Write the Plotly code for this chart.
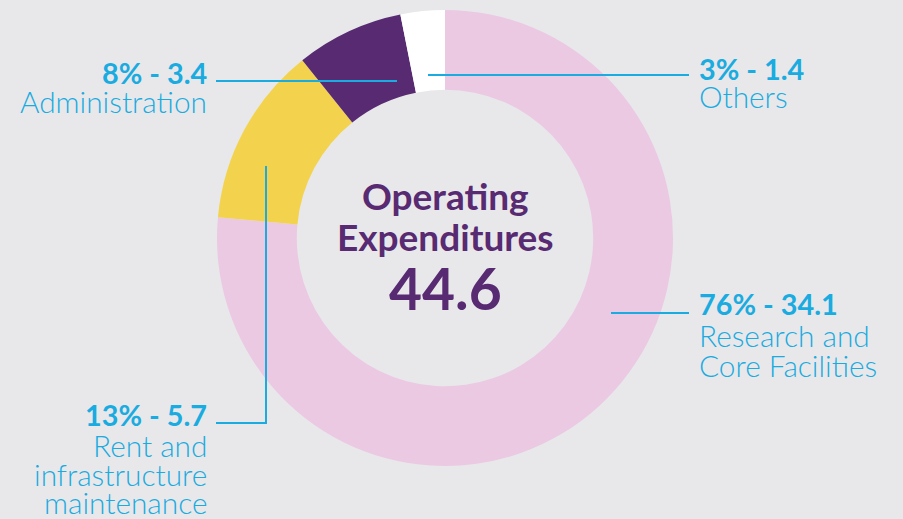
import plotly.graph_objects as go

# ---- data ----
categories = ["Research and Core Facilities", "Rent and infrastructure maintenance", "Administration", "Others"]
values = [34.1, 5.7, 3.4, 1.4]
percents = ["76%", "13%", "8%", "3%"]
colors = ["#EBC9E3", "#F3D34E", "#582A72", "#FFFFFF"]
total_label = "44.6"
center_title = ["Operating", "Expenditures"]

W, H = 903, 519
BG = "#E8E8EA"
BLUE = "#1AABE0"
PURPLE = "#582A72"

cx, cy, R = 445, 238, 228
fig = go.Figure()
fig.add_trace(go.Pie(
    labels=categories, values=values, sort=False, direction="clockwise", rotation=0,
    hole=0.65, marker=dict(colors=colors, line=dict(width=0)), textinfo="none",
    hoverinfo="label+value+percent", showlegend=False,
    domain=dict(x=[(cx - R) / W, (cx + R) / W], y=[1 - (cy + R) / H, 1 - (cy - R) / H]),
))

name_lines = {
    0: ["Research and", "Core Facilities"],
    1: ["Rent and", "infrastructure", "maintenance"],
    2: ["Administration"],
    3: ["Others"],
}
label_pos = {
    0: (697, "left", 304, [335, 365]),
    1: (209, "right", 415, [445, 474, 502]),
    2: (209, "right", 73, [101]),
    3: (697, "left", 69, [96]),
}
annotations = []
for i, (x, xa, yv, yn) in label_pos.items():
    annotations.append(dict(x=x, y=yv, xref="x", yref="y", xanchor=xa, yanchor="middle",
                            text=f"<b>{percents[i]} - {values[i]}</b>", showarrow=False,
                            font=dict(family="Lato", size=28.8, color=BLUE)))
    for line, yy in zip(name_lines[i], yn):
        annotations.append(dict(x=x, y=yy, xref="x", yref="y", xanchor=xa, yanchor="middle",
                                text=line, showarrow=False,
                                font=dict(family="Lato", size=29.8, color=BLUE, weight=300)))

annotations.append(dict(x=cx, y=195, xref="x", yref="y", xanchor="center", yanchor="middle",
                        text=f"<b>{center_title[0]}</b>", showarrow=False,
                        font=dict(family="Lato", size=37, color=PURPLE)))
annotations.append(dict(x=cx, y=236, xref="x", yref="y", xanchor="center", yanchor="middle",
                        text=f"<b>{center_title[1]}</b>", showarrow=False,
                        font=dict(family="Lato", size=37, color=PURPLE)))
annotations.append(dict(x=cx, y=288, xref="x", yref="y", xanchor="center", yanchor="middle",
                        text=f"<b>{total_label}</b>", showarrow=False,
                        font=dict(family="Lato", size=57, color=PURPLE)))

line_style = dict(color=BLUE, width=2)
shapes = [
    dict(type="line", xref="x", yref="y", x0=216, y0=81, x1=397, y1=81, line=line_style),
    dict(type="line", xref="x", yref="y", x0=428, y0=75, x1=689, y1=75, line=line_style),
    dict(type="line", xref="x", yref="y", x0=611, y0=313, x1=689, y1=313, line=line_style),
    dict(type="path", xref="x", yref="y", path="M 266 166 L 266 423 L 216 423", line=line_style),
]

fig.update_layout(
    width=W, height=H, margin=dict(l=0, r=0, t=0, b=0),
    paper_bgcolor=BG, plot_bgcolor="rgba(0,0,0,0)",
    xaxis=dict(range=[0, W], visible=False, fixedrange=True),
    yaxis=dict(range=[H, 0], visible=False, fixedrange=True),
    annotations=annotations, shapes=shapes,
)
fig.write_html("out.html", config={"displayModeBar": False})

with open("out.html", "r", encoding="utf-8") as f:
    html = f.read()
html = html.replace("<head>", "<head><style>html,body{margin:0;padding:0;overflow:hidden;background:#E8E8EA}</style>", 1)
with open("out.html", "w", encoding="utf-8") as f:
    f.write(html)
